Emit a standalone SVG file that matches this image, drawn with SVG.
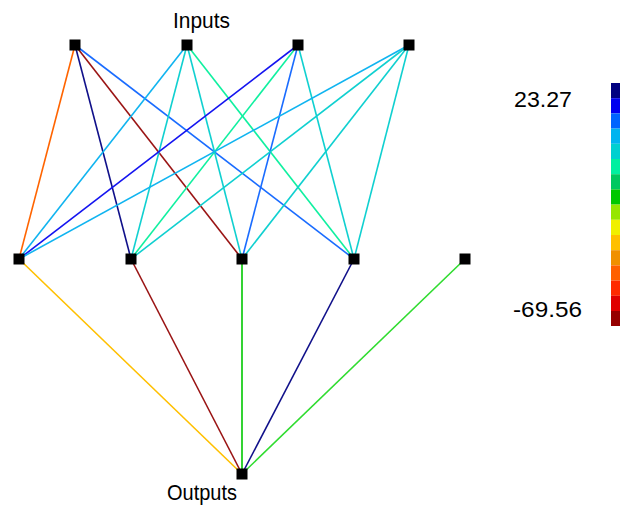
<svg xmlns="http://www.w3.org/2000/svg" width="620" height="505" viewBox="0 0 620 505">
<style>
.lbl{font-family:"Liberation Sans",Arial,sans-serif;font-size:22px;fill:#000}
.e{stroke-width:1.6;fill:none}
.n{fill:#000}
</style>
<rect width="620" height="505" fill="#fff"/>
<g id="connectors">
<line class="e" x1="75" y1="45" x2="19" y2="259" stroke="#ff6400"/>
<line class="e" x1="75" y1="45" x2="131" y2="259" stroke="#10108a"/>
<line class="e" x1="75" y1="45" x2="242" y2="259" stroke="#9a1414"/>
<line class="e" x1="75" y1="45" x2="354" y2="259" stroke="#1a6cff"/>
<line class="e" x1="187" y1="45" x2="19" y2="259" stroke="#10b4f0"/>
<line class="e" x1="187" y1="45" x2="131" y2="259" stroke="#10d0d0"/>
<line class="e" x1="187" y1="45" x2="242" y2="259" stroke="#10d0d0"/>
<line class="e" x1="187" y1="45" x2="354" y2="259" stroke="#10f0a0"/>
<line class="e" x1="298" y1="45" x2="19" y2="259" stroke="#1414f0"/>
<line class="e" x1="298" y1="45" x2="131" y2="259" stroke="#10f0a0"/>
<line class="e" x1="298" y1="45" x2="242" y2="259" stroke="#1a6cff"/>
<line class="e" x1="298" y1="45" x2="354" y2="259" stroke="#10d0d0"/>
<line class="e" x1="409" y1="45" x2="19" y2="259" stroke="#10b4f0"/>
<line class="e" x1="409" y1="45" x2="131" y2="259" stroke="#10d0d0"/>
<line class="e" x1="409" y1="45" x2="242" y2="259" stroke="#10d0d0"/>
<line class="e" x1="409" y1="45" x2="354" y2="259" stroke="#10d0d0"/>
<line class="e" x1="19" y1="259" x2="242" y2="474" stroke="#ffc000"/>
<line class="e" x1="131" y1="259" x2="242" y2="474" stroke="#9a1414"/>
<line class="e" x1="242" y1="259" x2="242" y2="474" stroke="#00c800"/>
<line class="e" x1="354" y1="259" x2="242" y2="474" stroke="#10108a"/>
<line class="e" x1="465" y1="259" x2="242" y2="474" stroke="#30dc30"/>
</g>
<g id="in1"><rect class="n" x="69.5" y="39.5" width="11" height="11"/></g>
<g id="in2"><rect class="n" x="181.5" y="39.5" width="11" height="11"/></g>
<g id="in3"><rect class="n" x="292.5" y="39.5" width="11" height="11"/></g>
<g id="in4"><rect class="n" x="403.5" y="39.5" width="11" height="11"/></g>
<g id="h1"><rect class="n" x="13.5" y="253.5" width="11" height="11"/></g>
<g id="h2"><rect class="n" x="125.5" y="253.5" width="11" height="11"/></g>
<g id="h3"><rect class="n" x="236.5" y="253.5" width="11" height="11"/></g>
<g id="h4"><rect class="n" x="348.5" y="253.5" width="11" height="11"/></g>
<g id="h5"><rect class="n" x="459.5" y="253.5" width="11" height="11"/></g>
<g id="out"><rect class="n" x="236.5" y="468.5" width="11" height="11"/></g>
<g id="labels">
<text class="lbl" x="173" y="28" textLength="57" lengthAdjust="spacingAndGlyphs">Inputs</text>
<text class="lbl" x="167" y="500" textLength="70" lengthAdjust="spacingAndGlyphs">Outputs</text>
<text class="lbl" x="514" y="107" textLength="58" lengthAdjust="spacingAndGlyphs">23.27</text>
<text class="lbl" x="513" y="317" textLength="69" lengthAdjust="spacingAndGlyphs">-69.56</text>
</g>
<g id="colorbar">
<rect x="611" y="83" width="9" height="15.2" fill="#000080"/>
<rect x="611" y="98.2" width="9" height="15.2" fill="#0000f0"/>
<rect x="611" y="113.4" width="9" height="15.2" fill="#0064ff"/>
<rect x="611" y="128.6" width="9" height="15.2" fill="#00b4f0"/>
<rect x="611" y="143.8" width="9" height="15.2" fill="#00d0d0"/>
<rect x="611" y="159" width="9" height="15.2" fill="#00f0a0"/>
<rect x="611" y="174.2" width="9" height="15.2" fill="#00c860"/>
<rect x="611" y="189.4" width="9" height="15.2" fill="#00c800"/>
<rect x="611" y="204.6" width="9" height="15.2" fill="#96e600"/>
<rect x="611" y="219.8" width="9" height="15.2" fill="#f0f000"/>
<rect x="611" y="235" width="9" height="15.2" fill="#ffc000"/>
<rect x="611" y="250.2" width="9" height="15.2" fill="#f09000"/>
<rect x="611" y="265.4" width="9" height="15.2" fill="#ff6000"/>
<rect x="611" y="280.6" width="9" height="15.2" fill="#ff2a00"/>
<rect x="611" y="295.8" width="9" height="15.2" fill="#e00000"/>
<rect x="611" y="311" width="9" height="15" fill="#960000"/>
</g>
</svg>
